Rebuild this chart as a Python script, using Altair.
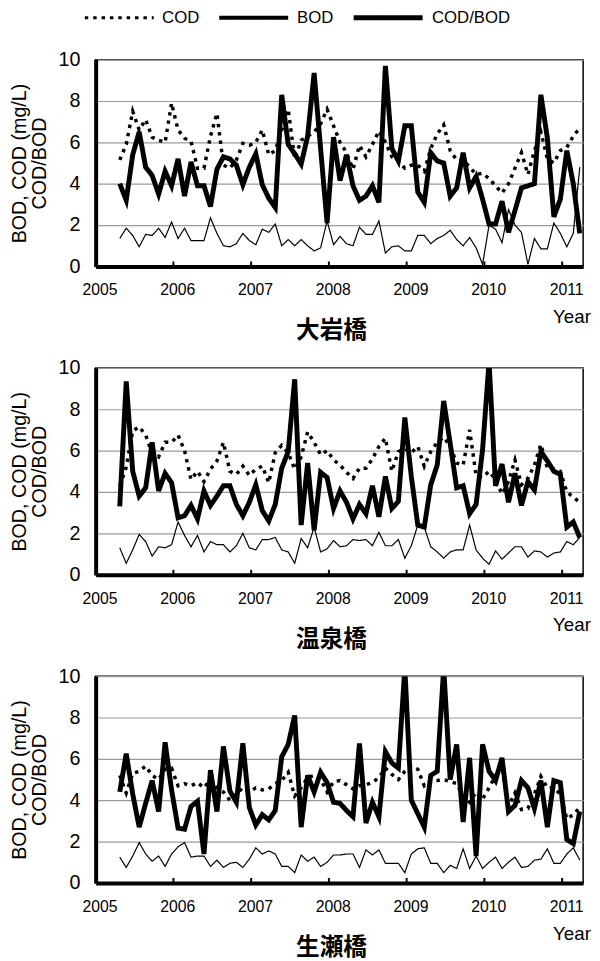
import altair as alt
import pandas as pd

# ---------------- data ----------------
series_names = ["COD", "BOD", "COD/BOD"]
year_ticks = [2005, 2006, 2007, 2008, 2009, 2010, 2011]
sample_months = pd.period_range("2005-04", "2011-03", freq="M")  # monthly sampling
sample_day = 0.06  # sampling ~3 weeks into each month (fraction of a year)

oiwa_cod = [5.15, 5.9, 7.5, 6.6, 7.1, 6.25, 6.1, 6.0, 7.9, 6.6, 6.2, 6.05,
            4.75, 4.75, 6.3, 7.4, 4.9, 4.75, 5.15, 5.95, 5.85, 6.0, 6.6, 5.4,
            5.6, 6.6, 7.6, 5.2, 6.1, 6.3, 6.5, 6.9, 7.6, 6.8, 6.0, 5.5,
            4.7, 5.85, 5.3, 5.9, 6.55, 6.0, 5.3, 5.1, 4.75, 4.9, 4.9, 4.6,
            5.7, 6.4, 6.85, 5.6, 5.15, 5.15, 4.8, 4.45, 4.5, 4.25, 3.9, 3.55,
            4.0, 4.75, 5.5, 4.45, 5.6, 6.5, 5.2, 5.0, 5.6, 5.75, 6.3, 6.7]
oiwa_bod = [1.35, 1.85, 1.5, 0.95, 1.55, 1.5, 1.85, 1.4, 2.15, 1.35, 1.85, 1.25,
            1.25, 1.25, 2.35, 1.6, 1.0, 0.95, 1.1, 1.6, 1.25, 1.05, 1.8, 1.65,
            2.05, 1.0, 1.3, 1.0, 1.3, 1.0, 0.75, 0.9, 2.2, 1.05, 1.45, 1.1,
            1.0, 1.9, 1.55, 1.55, 2.2, 0.65, 0.95, 1.0, 0.75, 0.75, 1.5, 1.5,
            1.1, 1.35, 1.5, 1.75, 1.3, 1.0, 1.4, 0.9, 0.1, 2.0, 1.8, 1.15,
            2.75, 2.0, 1.65, 0.1, 1.35, 0.85, 0.85, 2.1, 1.6, 0.95, 1.6, 4.8]
oiwa_ratio = [4.0, 3.2, 5.4, 6.5, 4.8, 4.4, 3.5, 4.6, 3.9, 5.2, 3.4, 5.05,
              3.9, 3.9, 2.9, 4.7, 5.3, 5.2, 4.9, 3.95, 4.8, 5.45, 3.95, 3.3,
              2.85, 8.3, 5.9, 5.45, 4.95, 6.3, 9.35, 5.7, 2.1, 6.25, 4.15, 5.4,
              3.9, 3.2, 3.4, 3.9, 3.1, 9.7, 5.7, 5.1, 6.8, 6.8, 3.6, 3.1,
              5.5, 5.1, 5.0, 3.4, 3.8, 5.5, 3.8, 4.35, 3.25, 2.05, 2.05, 3.15,
              1.65, 2.7, 3.8, 3.9, 4.0, 8.3, 6.2, 2.4, 3.25, 5.6, 4.0, 1.6]

onsen_cod = [4.3, 5.2, 6.95, 7.15, 6.75, 5.85, 5.7, 6.4, 6.4, 6.75, 6.0, 4.6,
             5.0, 4.5, 5.1, 5.5, 6.4, 5.0, 4.85, 5.25, 4.8, 5.1, 5.25, 4.45,
             5.9, 6.25, 5.9, 5.1, 5.7, 6.9, 6.4, 5.8, 6.0, 5.55, 5.3, 4.95,
             4.65, 5.15, 5.15, 5.6, 6.2, 6.6, 5.0, 5.95, 6.1, 5.9, 6.2, 5.25,
             5.95, 6.4, 6.65, 6.2, 5.4, 5.3, 7.0, 4.8, 4.7, 5.0, 4.6, 3.9,
             4.5, 5.55, 4.35, 4.65, 5.3, 6.3, 5.15, 5.1, 5.0, 4.0, 3.75, 3.5]
onsen_bod = [1.3, 0.55, 1.2, 1.95, 1.6, 0.9, 1.35, 1.3, 1.45, 2.55, 1.9, 1.35,
             1.9, 1.1, 1.6, 1.45, 1.45, 1.1, 1.4, 2.0, 1.3, 1.2, 1.7, 1.7,
             1.8, 1.2, 1.1, 0.55, 1.75, 1.3, 2.3, 1.1, 1.25, 1.65, 1.35, 1.4,
             1.7, 1.65, 1.7, 1.4, 2.05, 1.4, 1.4, 1.7, 0.8, 1.4, 2.4, 2.3,
             1.35, 1.1, 0.8, 1.1, 1.2, 1.2, 2.4, 1.2, 0.8, 0.5, 1.15, 0.75,
             1.05, 1.35, 1.35, 0.85, 1.15, 1.1, 0.85, 1.05, 1.1, 1.6, 1.45, 1.8]
onsen_ratio = [3.3, 9.35, 5.0, 3.8, 4.2, 6.4, 4.05, 4.9, 4.45, 2.75, 2.85, 3.35,
               2.7, 4.05, 3.35, 3.8, 4.3, 4.3, 3.4, 2.85, 3.5, 4.35, 3.1, 2.6,
               3.4, 5.15, 5.95, 9.45, 2.4, 5.4, 2.15, 4.95, 4.7, 3.2, 4.05, 3.5,
               2.7, 3.4, 2.95, 4.3, 2.8, 4.75, 3.2, 3.55, 7.6, 4.75, 2.4, 2.3,
               4.35, 5.3, 8.4, 6.35, 4.2, 4.3, 2.95, 3.4, 6.05, 10.3, 4.3, 5.35,
               3.5, 4.9, 3.35, 4.5, 4.1, 5.95, 5.5, 5.0, 4.85, 2.3, 2.55, 1.8]

namaze_cod = [5.2, 4.35, 5.3, 5.4, 5.65, 5.2, 5.0, 5.5, 5.55, 4.7, 4.8, 4.7,
              4.85, 4.6, 5.0, 4.6, 4.4, 4.0, 4.3, 4.6, 4.4, 4.6, 4.5, 4.55,
              4.8, 4.95, 5.35, 4.2, 4.6, 5.1, 5.2, 5.0, 4.4, 4.9, 4.95, 4.75,
              4.55, 4.7, 4.75, 4.85, 5.1, 5.55, 5.25, 5.0, 5.4, 5.65, 5.5, 4.7,
              4.95, 4.95, 5.0, 4.9, 4.8, 4.2, 3.9, 4.4, 4.05, 4.6, 5.2, 5.65,
              3.7, 4.35, 3.55, 3.6, 4.3, 5.15, 4.6, 4.6, 4.3, 3.1, 3.3, 3.65]
namaze_bod = [1.25, 0.75, 1.3, 1.95, 1.4, 1.05, 1.3, 0.8, 1.4, 1.75, 1.95, 1.25,
              1.3, 1.3, 0.8, 1.1, 0.75, 0.95, 1.0, 0.75, 1.15, 1.7, 1.4, 1.55,
              1.4, 0.8, 0.8, 0.5, 1.35, 1.05, 1.25, 0.8, 1.0, 1.35, 1.35, 1.4,
              1.4, 0.75, 1.6, 1.35, 1.6, 0.95, 0.95, 0.95, 0.5, 1.4, 1.65, 1.7,
              0.95, 0.95, 0.5, 0.85, 0.7, 1.65, 0.7, 1.3, 0.7, 1.0, 1.25, 0.7,
              1.0, 1.25, 0.75, 0.8, 1.1, 1.15, 1.65, 0.95, 0.95, 1.4, 1.7, 1.1]
namaze_ratio = [4.4, 6.25, 4.3, 2.7, 3.85, 4.95, 3.45, 6.8, 4.5, 2.65, 2.6, 3.7,
                3.95, 1.4, 5.45, 3.45, 6.6, 4.45, 3.9, 6.75, 3.65, 2.8, 3.3, 3.05,
                3.5, 6.1, 6.7, 8.1, 2.7, 5.2, 4.4, 5.35, 4.85, 3.9, 3.85, 3.5,
                3.2, 6.75, 2.9, 3.9, 3.2, 6.35, 5.8, 5.55, 10.4, 4.0, 3.35, 2.7,
                5.2, 5.4, 10.4, 5.0, 6.7, 2.95, 6.05, 1.3, 6.7, 5.4, 4.95, 6.05,
                3.45, 3.75, 4.95, 4.6, 3.6, 4.95, 2.7, 4.95, 4.85, 2.1, 1.9, 3.45]

panels = [
    ("大岩橋", oiwa_cod, oiwa_bod, oiwa_ratio),
    ("温泉橋", onsen_cod, onsen_bod, onsen_ratio),
    ("生瀬橋", namaze_cod, namaze_bod, namaze_ratio),
]

# ---------------- styling ----------------
W, H = 495, 210
FONT = "Liberation Sans"
STYLE = {"COD": (3.5, [3.5, 5]), "BOD": (1.2, [1, 0]), "COD/BOD": (5, [1, 0])}


def to_frame(cod, bod, ratio):
    t = [p.year + (p.month - 1) / 12 + sample_day for p in sample_months]
    parts = []
    for name, vals in zip(series_names, (cod, bod, ratio)):
        parts.append(pd.DataFrame({"t": t, "v": vals, "series": name}))
    return pd.concat(parts, ignore_index=True)


def make_panel(name, cod, bod, ratio, show_legend):
    df = to_frame(cod, bod, ratio)
    x = alt.X("t:Q",
              scale=alt.Scale(domain=[2005, 2011.27], nice=False, zero=False),
              axis=alt.Axis(values=year_ticks, format="d", title="Year", grid=False,
                            ticks=False, tickSize=0, labelFontSize=16, labelPadding=16,
                            labelOffset=4, labelFlush=False, labelOverlap=False,
                            domainColor="black", domainWidth=4,
                            titleX=464, titleY=57, titleAlign="left",
                            titleBaseline="alphabetic", titleFontSize=19,
                            titleFontWeight="normal"))
    y = alt.Y("v:Q",
              scale=alt.Scale(domain=[0, 10], nice=False),
              axis=alt.Axis(values=[0, 2, 4, 6, 8, 10], title=["BOD, COD (mg/L)", "COD/BOD"],
                            grid=True, gridColor="#9a9a9a", gridWidth=1.2,
                            ticks=False, tickSize=0, labelFontSize=20, labelPadding=16,
                            domainColor="black", domainWidth=4,
                            titleFontSize=20, titleFontWeight="normal",
                            titleX=-77, titleY=H / 2, titleAngle=270,
                            titleBaseline="middle", titleAlign="center",
                            titleLineHeight=20))
    if show_legend:
        legend = alt.Legend(orient="none", legendX=-12.5, legendY=-51, direction="horizontal",
                            title=None, symbolType="stroke", symbolSize=4900,
                            clipHeight=17,
                            labelFont=FONT, labelFontSize=17,
                            labelColor="black", labelOffset=7, columnPadding=18,
                            padding=0)
    else:
        legend = None
    color = alt.Color("series:N", scale=alt.Scale(domain=series_names, range=["black"] * 3),
                      legend=legend)
    dash = alt.StrokeDash("series:N",
                          scale=alt.Scale(domain=series_names,
                                          range=[STYLE[s][1] for s in series_names]),
                          legend=legend)
    layers = []
    for s in series_names:
        layers.append(
            alt.Chart(df).transform_filter(alt.datum.series == s)
            .mark_line(strokeWidth=STYLE[s][0], clip=True)
            .encode(x=x, y=y, color=color, strokeDash=dash)
        )
    if show_legend:
        # empty layer that only feeds the legend its symbol widths
        width_key = alt.StrokeWidth("series:N",
                                    scale=alt.Scale(type="point", domain=series_names,
                                                    range=[3, 5], padding=0),
                                    legend=legend)
        layers.append(
            alt.Chart(df).transform_filter(alt.datum.v < 0)
            .mark_line()
            .encode(x=x, y=y, color=color, strokeDash=dash, strokeWidth=width_key)
        )
    ticks = alt.Chart(pd.DataFrame({"t": year_ticks[1:]})).mark_rule(
        color="black", strokeWidth=2).encode(x=x, y=alt.value(H), y2=alt.value(H - 5))
    layers.append(ticks)
    return alt.layer(*layers).properties(
        width=W, height=H,
        title=alt.TitleParams(name, orient="bottom", anchor="middle", frame="group",
                              dx=-8, offset=-7, font="Noto Sans CJK JP", fontSize=24,
                              fontWeight="bold", color="black"))


charts = [make_panel(n, c, b, r, i == 0) for i, (n, c, b, r) in enumerate(panels)]

chart = (
    alt.vconcat(*charts, spacing=13)
    .resolve_legend(color="independent", strokeDash="independent",
                    strokeWidth="independent")
    .properties(padding={"left": 1, "top": -7, "right": 0, "bottom": 4})
    .configure(font=FONT)
    .configure_view(stroke="black", strokeWidth=1.5)
    .configure_axis(labelFont=FONT, titleFont=FONT, labelColor="black", titleColor="black")
)

chart.save("out.html", embed_options={"renderer": "svg", "actions": False})
